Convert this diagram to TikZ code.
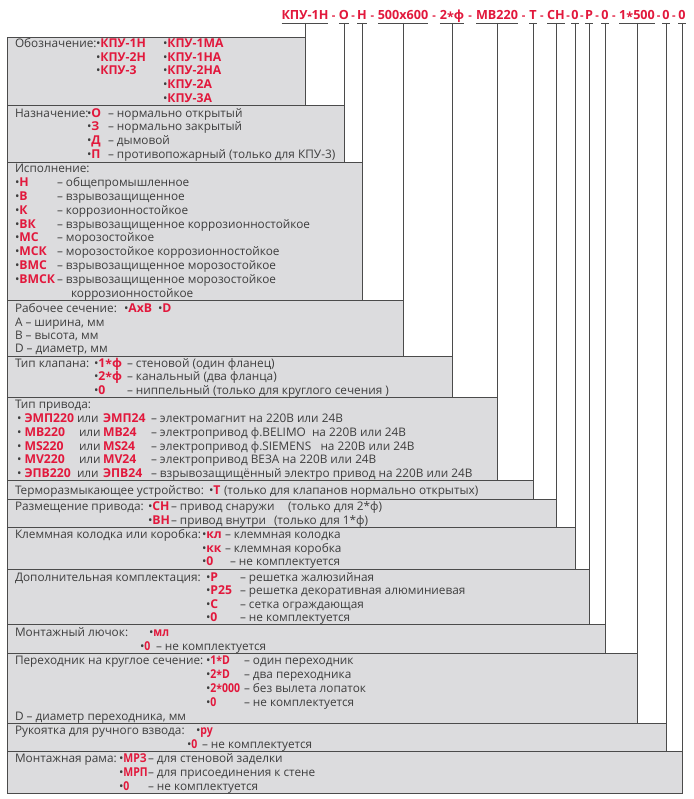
\documentclass[tikz,border=0pt]{standalone}
\usepackage{fontspec}
\setmainfont{Open Sans}
\newfontfamily\cond[FakeStretch=0.86]{Open Sans}
\usetikzlibrary{calc}
\definecolor{kred}{RGB}{226,24,60}
\definecolor{kfill}{RGB}{220,220,222}
\definecolor{kline}{RGB}{75,75,75}
\definecolor{ktext}{RGB}{62,62,62}
\newcommand\R[1]{\textcolor{kred}{\fontsize{12.2}{13}\selectfont\bfseries #1}}
\newcommand\RC[1]{\textcolor{kred}{\fontsize{12.2}{13}\selectfont\cond\bfseries #1}}
\newcommand\zv{\raisebox{-0.25ex}{*}}
\begin{document}
\begin{tikzpicture}[x=1pt,y=-1pt,
  box/.style={draw=kline, fill=kfill, line width=0.9pt, anchor=north west, inner sep=0pt, outer sep=0pt},
  txt/.style={anchor=base west, inner sep=0pt, outer sep=0pt, text=ktext, font=\fontsize{11.8}{13}\selectfont},
  seg/.style={anchor=base, inner sep=0pt, outer sep=0pt, text=kred, font=\fontsize{12.6}{16}\selectfont\bfseries, text depth=0pt},
  hy/.style={seg, font=\fontsize{11}{16}\selectfont\bfseries},
  lead/.style={draw=kline, line width=0.9pt}]
\useasboundingbox (0,0) rectangle (693,799);
\fill[white] (0,0) rectangle (693,799);

% boxes
\node[box, minimum width=298pt, minimum height=68pt] (B1) at (7,37) {};
\node[box, minimum width=337pt, minimum height=57pt] (B2) at (7,105) {};
\node[box, minimum width=355pt, minimum height=138pt] (B3) at (7,162) {};
\node[box, minimum width=396pt, minimum height=56pt] (B4) at (7,300) {};
\node[box, minimum width=445pt, minimum height=41pt] (B5) at (7,356) {};
\node[box, minimum width=490pt, minimum height=83pt] (B6) at (7,397) {};
\node[box, minimum width=526pt, minimum height=19pt] (B7) at (7,480) {};
\node[box, minimum width=549pt, minimum height=28pt] (B8) at (7,499) {};
\node[box, minimum width=568pt, minimum height=42pt] (B9) at (7,527) {};
\node[box, minimum width=582pt, minimum height=55pt] (B10) at (7,569) {};
\node[box, minimum width=598pt, minimum height=29pt] (B11) at (7,624) {};
\node[box, minimum width=630pt, minimum height=70pt] (B12) at (7,653) {};
\node[box, minimum width=659pt, minimum height=28pt] (B13) at (7,723) {};
\node[box, minimum width=675pt, minimum height=42pt] (B14) at (7,751) {};

% code line
\node[seg] (s1) at (305,20) {КПУ-1Н};
\node[seg] (s2) at (344,20) {О};
\node[seg] (s3) at (362,20) {Н};
\node[seg] (s4) at (403,20) {500x600};
\node[seg] (s5) at (452,20) {2\zv ф};
\node[seg] (s6) at (497,20) {МВ220};
\node[seg] (s7) at (533,20) {Т};
\node[seg] (s8) at (556,20) {СН};
\node[seg] (s9) at (575,20) {0};
\node[seg] (s10) at (589,20) {Р};
\node[seg] (s11) at (605,20) {0};
\node[seg] (s12) at (637,20) {1\zv 500};
\node[seg] (s13) at (666,20) {0};
\node[seg] (s14) at (682,20) {0};
\foreach \a/\b in {1/2,2/3,3/4,4/5,5/6,6/7,7/8,8/9,9/10,10/11,11/12,12/13,13/14}
  \node[hy] (h\a) at ($(s\a.base east)!0.5!(s\b.base west)$) {-};
\foreach \i in {1,...,14}{
  \draw[lead] ($(s\i.base west)+(0,3)$) -- ($(s\i.base east)+(0,3)$);
  \draw[lead] ($(s\i.base)+(0,3)$) -- (B\i.north east);
}

% box 1
\node[txt] (t1a) at (15,48) {Обозначение:};
\node[txt] (t1b) at (96,48) {•\R{КПУ-1Н}};
\node[txt] (t1c) at (96,62) {•\R{КПУ-2Н}};
\node[txt] (t1d) at (96,75) {•\R{КПУ-3}};
\node[txt] (t1e) at (163,48) {•\R{КПУ-1МА}};
\node[txt] (t1f) at (163,62) {•\R{КПУ-1НА}};
\node[txt] (t1g) at (163,75) {•\R{КПУ-2НА}};
\node[txt] (t1h) at (163,89) {•\R{КПУ-2А}};
\node[txt] (t1i) at (163,103) {•\R{КПУ-3А}};

% box 2
\node[txt] (t2a) at (15,118) {Назначение:};
\node[txt] (t2b) at (87,118) {•\R{О}};
\node[txt] (t2c) at (108,118) {– нормально открытый};
\node[txt] (t2d) at (87,131) {•\R{З}};
\node[txt] (t2e) at (108,131) {– нормально закрытый};
\node[txt] (t2f) at (87,145) {•\R{Д}};
\node[txt] (t2g) at (108,145) {– дымовой};
\node[txt] (t2h) at (87,159) {•\R{П}};
\node[txt] (t2i) at (108,159) {– противопожарный (только для КПУ-3)};

% box 3
\node[txt] (t3a) at (15,173) {Исполнение:};
\node[txt] (t3b) at (15,186.8) {•\R{Н}};
\node[txt] (t3c) at (57,186.8) {– общепромышленное};
\node[txt] (t3d) at (15,200.6) {•\R{В}};
\node[txt] (t3e) at (57,200.6) {– взрывозащищенное};
\node[txt] (t3f) at (15,214.4) {•\R{К}};
\node[txt] (t3g) at (57,214.4) {– коррозионностойкое};
\node[txt] (t3h) at (15,228.2) {•\R{ВК}};
\node[txt] (t3i) at (57,228.2) {– взрывозащищенное коррозионностойкое};
\node[txt] (t3j) at (15,242) {•\R{МС}};
\node[txt] (t3k) at (57,242) {– морозостойкое};
\node[txt] (t3l) at (15,255.8) {•\R{МСК}};
\node[txt] (t3m) at (57,255.8) {– морозостойкое коррозионностойкое};
\node[txt] (t3n) at (15,269.6) {•\R{ВМС}};
\node[txt] (t3o) at (57,269.6) {– взрывозащищенное морозостойкое};
\node[txt] (t3p) at (15,283.4) {•\R{ВМСК}};
\node[txt] (t3q) at (57,283.4) {– взрывозащищенное морозостойкое};
\node[txt] (t3r) at (71,297.2) {коррозионностойкое};

% box 4
\node[txt] (t4a) at (15,312) {Рабочее сечение:};
\node[txt] (t4b) at (124,312) {•\R{АхВ}};
\node[txt] (t4c) at (158,312) {•\R{D}};
\node[txt] (t4d) at (15,326) {А – ширина, мм};
\node[txt] (t4e) at (15,339) {В – высота, мм};
\node[txt] (t4f) at (15,352) {D – диаметр, мм};

% box 5
\node[txt] (t5a) at (15,367) {Тип клапана:};
\node[txt] (t5b) at (94,367) {•\R{1\zv ф}};
\node[txt] (t5c) at (127,367) {– стеновой (один фланец)};
\node[txt] (t5d) at (94,380) {•\R{2\zv ф}};
\node[txt] (t5e) at (127,380) {– канальный (два фланца)};
\node[txt] (t5f) at (94,394) {•\R{0}};
\node[txt] (t5g) at (127,394) {– ниппельный (только для круглого сечения )};

% box 6
\node[txt] (t6a) at (15,408) {Тип привода:};
\node[txt] (t6b) at (17,422) {• \R{ЭМП220}};
\node[txt] (t6c) at (77,422) {или};
\node[txt] (t6d) at (103,422) {\R{ЭМП24}};
\node[txt] (t6e) at (151,422) {– электромагнит на 220В или 24В};
\node[txt] (t6f) at (17,436) {• \R{MB220}};
\node[txt] (t6g) at (79,436) {или};
\node[txt] (t6h) at (103,436) {\R{MB24}};
\node[txt] (t6i) at (151,436) {– электропривод ф.BELIMO\ \ на 220В или 24В};
\node[txt] (t6j) at (17,450) {• \R{MS220}};
\node[txt] (t6k) at (79,450) {или};
\node[txt] (t6l) at (103,450) {\R{MS24}};
\node[txt] (t6m) at (151,450) {– электропривод ф.SIEMENS\ \ \ на 220В или 24В};
\node[txt] (t6n) at (17,463) {• \R{MV220}};
\node[txt] (t6o) at (79,463) {или};
\node[txt] (t6p) at (103,463) {\R{MV24}};
\node[txt] (t6q) at (151,463) {– электропривод ВЕЗА на 220В или 24В};
\node[txt] (t6r) at (17,477) {• \R{ЭПВ220}};
\node[txt] (t6s) at (77,477) {или};
\node[txt] (t6t) at (103,477) {\R{ЭПВ24}};
\node[txt] (t6u) at (151,477) {– взрывозащищённый электро привод на 220В или 24В};

% box 7
\node[txt] (t7a) at (15,494) {Терморазмыкающее устройство:};
\node[txt] (t7b) at (209,494) {•\R{Т}};
\node[txt] (t7c) at (224,494) {(только для клапанов нормально открытых)};

% box 8
\node[txt] (t8a) at (15,510) {Размещение привода:};
\node[txt] (t8b) at (148,510) {•\R{СН}};
\node[txt] (t8c) at (171,510) {– привод снаружи};
\node[txt] (t8d) at (288,510) {(только для 2*ф)};
\node[txt] (t8e) at (148,524) {•\R{ВН}};
\node[txt] (t8f) at (171,524) {– привод внутри};
\node[txt] (t8g) at (274,524) {(только для 1*ф)};

% box 9
\node[txt] (t9a) at (15,538) {Клеммная колодка или коробка:};
\node[txt] (t9b) at (202,538) {•\R{кл}};
\node[txt] (t9c) at (225,538) {– клеммная колодка};
\node[txt] (t9d) at (202,552) {•\R{кк}};
\node[txt] (t9e) at (225,552) {– клеммная коробка};
\node[txt] (t9f) at (202,565) {•\R{0}};
\node[txt] (t9g) at (230,565) {– не комплектуется};

% box 10
\node[txt] (t10a) at (15,581) {Дополнительная комплектация:};
\node[txt] (t10b) at (206,581) {•\R{Р}};
\node[txt] (t10c) at (240,581) {– решетка жалюзийная};
\node[txt] (t10d) at (206,594) {•\R{Р25}};
\node[txt] (t10e) at (240,594) {– решетка декоративная алюминиевая};
\node[txt] (t10f) at (206,608) {•\R{С}};
\node[txt] (t10g) at (240,608) {– сетка ограждающая};
\node[txt] (t10h) at (206,621) {•\R{0}};
\node[txt] (t10i) at (240,621) {– не комплектуется};

% box 11
\node[txt] (t11a) at (15,636) {Монтажный лючок:};
\node[txt] (t11b) at (149,636) {•\RC{мл}};
\node[txt] (t11c) at (140,650) {•\RC{0}};
\node[txt] (t11d) at (156,650) {– не комплектуется};

% box 12
\node[txt] (t12a) at (15,664) {Переходник на круглое сечение:};
\node[txt] (t12b) at (206,664) {•\RC{1\zv D}};
\node[txt] (t12c) at (244,664) {– один переходник};
\node[txt] (t12d) at (206,678) {•\RC{2\zv D}};
\node[txt] (t12e) at (244,678) {– два переходника};
\node[txt] (t12f) at (206,692) {•\RC{2\zv 000}};
\node[txt] (t12g) at (244,692) {– без вылета лопаток};
\node[txt] (t12h) at (206,706) {•\RC{0}};
\node[txt] (t12i) at (244,706) {– не комплектуется};
\node[txt] (t12j) at (15,720) {D – диаметр переходника, мм};

% box 13
\node[txt] (t13a) at (15,734) {Рукоятка для ручного взвода:};
\node[txt] (t13b) at (196,734) {•\RC{ру}};
\node[txt] (t13c) at (187,748) {•\RC{0}};
\node[txt] (t13d) at (202,748) {– не комплектуется};

% box 14
\node[txt] (t14a) at (15,762) {Монтажная рама:};
\node[txt] (t14b) at (119,762) {•\RC{МРЗ}};
\node[txt] (t14c) at (148,762) {– для стеновой заделки};
\node[txt] (t14d) at (119,776) {•\RC{МРП}};
\node[txt] (t14e) at (148,776) {– для присоединения к стене};
\node[txt] (t14f) at (119,790) {•\RC{0}};
\node[txt] (t14g) at (148,790) {– не комплектуется};
\end{tikzpicture}
\end{document}
